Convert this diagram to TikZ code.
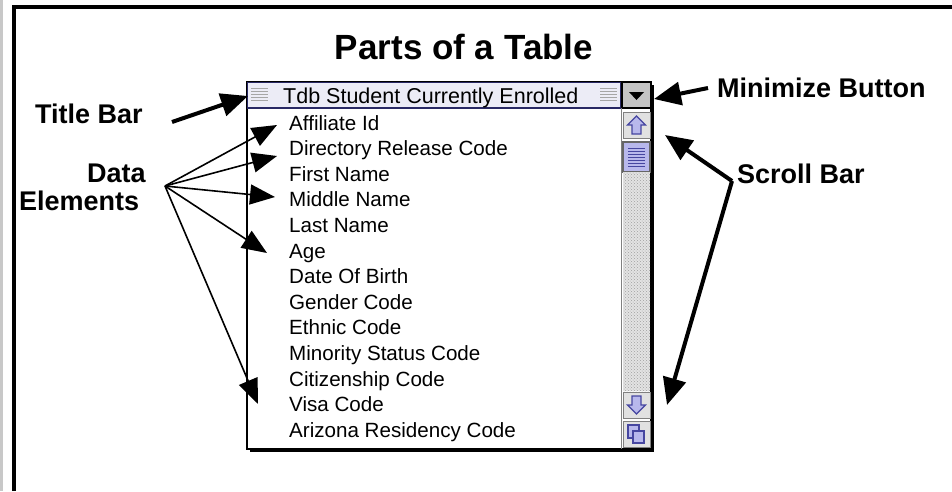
\documentclass[tikz,border=0pt]{standalone}
\usepackage{fontspec}
\setmainfont{Liberation Sans}
\usetikzlibrary{arrows.meta,patterns}
\definecolor{stripgray}{RGB}{200,200,200}
\definecolor{tbfill}{RGB}{236,236,246}
\definecolor{navy}{RGB}{40,40,100}
\definecolor{lav}{RGB}{184,184,236}
\definecolor{lavline}{RGB}{70,70,160}
\definecolor{btngray}{RGB}{196,196,196}
\definecolor{boxgray}{RGB}{225,225,225}
\tikzset{
  lbl/.style={anchor=base west,inner sep=0pt,font=\fontsize{27}{30}\selectfont\bfseries},
  item/.style={anchor=base west,inner sep=0pt,font=\fontsize{20.6}{24}\selectfont},
  thickarrow/.style={line width=4pt,-{Triangle[length=27pt,width=23pt]}},
  thinarrow/.style={line width=1.6pt,-{Triangle[length=25pt,width=20pt]}},
  stripe/.style={line width=1.2pt,draw=gray!70},
}
\begin{document}
\begin{tikzpicture}[x=1pt,y=-1pt]
\useasboundingbox (0,0) rectangle (952,491);
% frame
\fill[stripgray] (0,0) rectangle (3,491);
\draw[line width=4pt,line join=miter] (14,491) -- (14,7) -- (952,7);
% title
\node[anchor=base,inner sep=0pt,font=\fontsize{35}{40}\selectfont\bfseries] (title) at (464,59) {Parts of a Table};
% window body and shadow
\fill[white] (247,82) rectangle (651,449);
\draw[line width=3pt] (250,450.5) -- (652.5,450.5) -- (652.5,85);
\draw[line width=1.4pt] (247,82) rectangle (651,449);
% title bar
\draw[fill=tbfill,draw=navy,line width=1.6pt] (247.5,82.5) rectangle (621,108);
\foreach \yy in {88.5,91.5,94.5,97.5,100.5} {
  \draw[stripe] (251,\yy) -- (268,\yy);
  \draw[stripe] (600,\yy) -- (617,\yy);
}
\node[anchor=base west,inner sep=0pt,font=\fontsize{21.5}{24}\selectfont] (tbtext) at (283,103) {Tdb Student Currently Enrolled};
% minimize button
\draw[fill=btngray,draw=black,line width=1.2pt] (622,82.5) rectangle (651,108);
\fill[black] (629,92) -- (644,92) -- (636.5,100) -- cycle;
% scrollbar column
\draw[line width=1.2pt,draw=gray] (621.5,108) -- (621.5,449);
\draw[fill=boxgray,draw=gray,line width=1pt] (623,112) rectangle (650,138);
\draw[fill=lav,draw=lavline,line width=1.1pt] (636.5,116) -- (645.5,125) -- (641,125) -- (641,134) -- (632,134) -- (632,125) -- (627.5,125) -- cycle;
\draw[fill=lav,draw=gray!80!black,line width=1.2pt] (623,142) rectangle (650,172);
\foreach \yy in {148,151,154,157,160,163,166} {
  \draw[line width=1pt,draw=lavline] (628,\yy) -- (645,\yy);
}
\fill[gray!22] (623,172) rectangle (650,391);
\fill[pattern=crosshatch dots,pattern color=gray!75] (623,172) rectangle (650,391);
\draw[fill=boxgray,draw=gray,line width=1pt] (623,392) rectangle (650,418);
\draw[fill=lav,draw=lavline,line width=1.1pt] (636.5,414) -- (645.5,405) -- (641,405) -- (641,396) -- (632,396) -- (632,405) -- (627.5,405) -- cycle;
\draw[fill=boxgray,draw=gray,line width=1pt] (623,421) rectangle (650,447);
\draw[fill=lav,draw=lavline,line width=1.1pt] (628,425) rectangle (639,438);
\draw[fill=lav,draw=lavline,line width=1.1pt] (633,431) rectangle (644,443);
% list items
\foreach \t [count=\k] in {Affiliate Id,Directory Release Code,First Name,Middle Name,Last Name,Age,Date Of Birth,Gender Code,Ethnic Code,Minority Status Code,Citizenship Code,Visa Code,Arizona Residency Code} {
  \node[item] (i\k) at (289,{130+25.6*(\k-1)}) {\t};
}
% labels
\node[lbl] (ltb) at (35,123) {Title Bar};
\node[lbl] (ldata) at (87,182) {Data};
\node[lbl] (lelem) at (19,210) {Elements};
\node[lbl] (lmin) at (717,97) {Minimize Button};
\node[lbl] (lscroll) at (737,183) {Scroll Bar};
% connector points
\coordinate (tbtail) at (172,122);
\coordinate (tbtip) at (248,96);
\coordinate (mintail) at (708,88);
\coordinate (mintip) at (654,99);
\coordinate (sj) at (732,181);
\coordinate (suptip) at (665,135);
\coordinate (sdowntip) at (667,405);
\coordinate (de) at (165,186);
\coordinate (t1) at (277,125);
\coordinate (t2) at (277,156);
\coordinate (t4) at (275,197);
\coordinate (t6) at (267,253);
\coordinate (t12) at (258,404);
% arrows
\draw[thickarrow] (tbtail) -- (tbtip);
\draw[thickarrow] (mintail) -- (mintip);
\draw[thickarrow] (sj) -- (suptip);
\draw[thickarrow] (sj) -- (sdowntip);
\foreach \t in {t1,t2,t4,t6,t12} {
  \draw[thinarrow] (de) -- (\t);
}
\end{tikzpicture}
\end{document}
